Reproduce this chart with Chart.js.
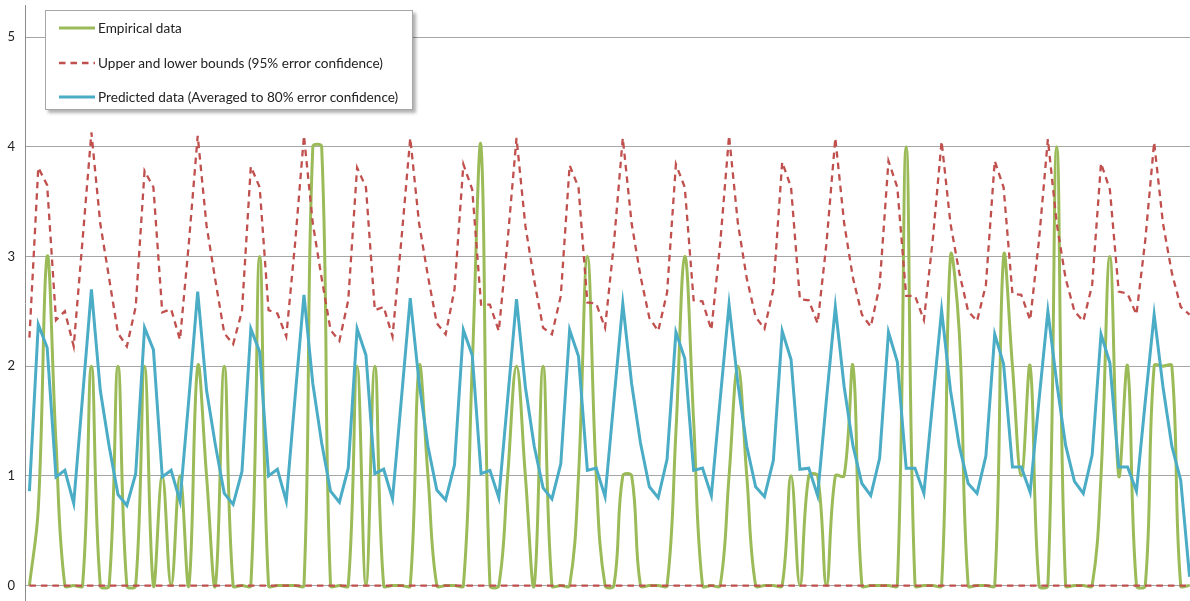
<!DOCTYPE html>
<html>
<head>
<meta charset="utf-8">
<title>Empirical vs predicted</title>
<script src="https://cdn.jsdelivr.net/npm/chart.js@4.4.1/dist/chart.umd.min.js"></script>
<style>
  html, body { margin: 0; padding: 0; overflow: hidden; background: #fff; }
  #wrap { position: relative; width: 1194px; height: 601px; }
  #legend {
    position: absolute; left: 45px; top: 10px; width: 368px; height: 100px;
    box-sizing: border-box; background: #fff; border: 1px solid #a6a6a6;
    box-shadow: 3px 3px 3px rgba(0, 0, 0, 0.3);
    font-family: Lato, "Liberation Sans", sans-serif; font-size: 13.6px; color: #222;
  }
  .item { position: absolute; left: 13px; height: 18px; line-height: 18px; white-space: nowrap; }
  .item svg { position: absolute; left: 0; top: 7px; }
  .item span { position: absolute; left: 39px; top: 0; }
</style>
</head>
<body>
<div id="wrap">
  <canvas id="chart"></canvas>
  <div id="legend"></div>
</div>
<script>
// data, one value per time step
var steps = [];
for (var k = 1; k <= 132; k++) steps.push(String(k));

var empirical = [
  0, 0.7, 3, 1.3, 0, 0, 0, 2, 0, 0, 2, 0,
  0, 2, 0, 1, 0, 1, 0, 2, 1, 0, 2, 0,
  0, 0, 3, 0, 0, 0, 0, 0, 4, 4, 0, 0,
  0, 2, 0, 2, 0, 0, 0, 0, 2, 1, 0, 0,
  0, 0, 2, 4, 0, 0, 1, 2, 1, 0, 2, 0,
  0, 0, 1, 3, 1, 0, 0, 1, 1, 0, 0, 0,
  0, 1.4, 3, 1.5, 0, 0, 0, 1, 2, 1, 0, 0,
  0, 0, 1, 0, 1, 1, 0, 1, 1, 2, 0, 0,
  0, 0, 0, 4, 0, 0, 0, 0, 3, 2.3, 0, 0,
  0, 0, 3, 2, 1, 2, 0, 0, 4, 0, 0, 0,
  0, 1, 3, 1, 2, 0, 0, 2, 2, 2, 0, 0
];

var upper = [
  2.26, 3.81, 3.65, 2.42, 2.50, 2.18, 3.15, 4.13, 3.30, 2.80, 2.30, 2.18,
  2.54, 3.78, 3.63, 2.49, 2.52, 2.24, 3.12, 4.10, 3.28, 2.78, 2.30, 2.20,
  2.50, 3.82, 3.63, 2.51, 2.48, 2.27, 3.12, 4.10, 3.30, 2.80, 2.33, 2.23,
  2.60, 3.81, 3.63, 2.51, 2.54, 2.27, 3.15, 4.08, 3.30, 2.82, 2.39, 2.29,
  2.70, 3.84, 3.61, 2.56, 2.56, 2.32, 3.15, 4.08, 3.28, 2.78, 2.35, 2.29,
  2.64, 3.83, 3.63, 2.58, 2.57, 2.35, 3.12, 4.08, 3.30, 2.82, 2.44, 2.32,
  2.67, 3.84, 3.63, 2.60, 2.59, 2.33, 3.12, 4.10, 3.30, 2.80, 2.45, 2.34,
  2.70, 3.86, 3.63, 2.61, 2.60, 2.39, 3.12, 4.08, 3.30, 2.80, 2.47, 2.36,
  2.73, 3.87, 3.63, 2.64, 2.64, 2.42, 3.15, 4.05, 3.30, 2.85, 2.50, 2.41,
  2.74, 3.87, 3.63, 2.66, 2.65, 2.42, 3.15, 4.07, 3.30, 2.80, 2.50, 2.41,
  2.74, 3.85, 3.61, 2.68, 2.66, 2.47, 3.15, 4.04, 3.30, 2.85, 2.54, 2.47
];

var lower = [
  0, 0, 0, 0, 0, 0, 0, 0, 0, 0, 0, 0,
  0, 0, 0, 0, 0, 0, 0, 0, 0, 0, 0, 0,
  0, 0, 0, 0, 0, 0, 0, 0, 0, 0, 0, 0,
  0, 0, 0, 0, 0, 0, 0, 0, 0, 0, 0, 0,
  0, 0, 0, 0, 0, 0, 0, 0, 0, 0, 0, 0,
  0, 0, 0, 0, 0, 0, 0, 0, 0, 0, 0, 0,
  0, 0, 0, 0, 0, 0, 0, 0, 0, 0, 0, 0,
  0, 0, 0, 0, 0, 0, 0, 0, 0, 0, 0, 0,
  0, 0, 0, 0, 0, 0, 0, 0, 0, 0, 0, 0,
  0, 0, 0, 0, 0, 0, 0, 0, 0, 0, 0, 0,
  0, 0, 0, 0, 0, 0, 0, 0, 0, 0, 0, 0
];

var predicted = [
  0.86, 2.38, 2.17, 0.99, 1.05, 0.75, 1.72, 2.70, 1.78, 1.27, 0.83, 0.73,
  1.02, 2.35, 2.15, 0.99, 1.05, 0.77, 1.70, 2.68, 1.78, 1.28, 0.84, 0.74,
  1.04, 2.34, 2.13, 1.00, 1.06, 0.77, 1.72, 2.65, 1.84, 1.30, 0.86, 0.76,
  1.07, 2.34, 2.10, 1.02, 1.06, 0.79, 1.70, 2.62, 1.85, 1.27, 0.87, 0.78,
  1.10, 2.33, 2.10, 1.02, 1.05, 0.80, 1.70, 2.61, 1.81, 1.27, 0.89, 0.79,
  1.11, 2.33, 2.09, 1.05, 1.07, 0.81, 1.69, 2.57, 1.84, 1.30, 0.90, 0.80,
  1.15, 2.31, 2.07, 1.05, 1.07, 0.82, 1.70, 2.56, 1.84, 1.27, 0.90, 0.81,
  1.14, 2.32, 2.06, 1.06, 1.07, 0.82, 1.70, 2.54, 1.81, 1.27, 0.93, 0.82,
  1.16, 2.31, 2.04, 1.07, 1.07, 0.84, 1.68, 2.51, 1.78, 1.27, 0.93, 0.84,
  1.18, 2.29, 2.02, 1.08, 1.08, 0.85, 1.69, 2.50, 1.85, 1.28, 0.95, 0.84,
  1.19, 2.29, 2.03, 1.08, 1.08, 0.86, 1.68, 2.47, 1.81, 1.27, 0.96, 0.08
];

var yTicks = [0, 1, 2, 3, 4, 5];

var green = "#9bbb59";
var red = "#c0504d";
var blue = "#4bacc6";
var dash = [6.5, 5];

var chart = new Chart("chart", {
  type: "line",
  data: {
    labels: steps,
    datasets: [
      {label: "Predicted data (Averaged to 80% error confidence)", data: predicted,
       borderColor: blue, borderWidth: 3, tension: 0, order: 1},
      {label: "Upper and lower bounds (95% error confidence)", data: upper,
       borderColor: red, borderWidth: 2.3, borderDash: dash, tension: 0, order: 2},
      {label: "", data: lower,
       borderColor: red, borderWidth: 2.3, borderDash: dash, tension: 0, order: 2},
      {label: "Empirical data", data: empirical,
       borderColor: green, borderWidth: 3, tension: 0.4, order: 3}
    ]
  },
  options: {
    responsive: true,
    maintainAspectRatio: false,
    animation: false,
    layout: {padding: {top: 5, right: 0, bottom: 0, left: 0}},
    elements: {point: {radius: 0, hoverRadius: 0}},
    plugins: {legend: {display: false}, tooltip: {enabled: false}},
    scales: {
      x: {type: "category", offset: true, display: false},
      y: {
        min: -0.141,
        max: 5.292,
        afterBuildTicks: function (scale) {
          scale.ticks = yTicks.map(function (v) { return {value: v}; });
        },
        afterFit: function (scale) {
          scale.width = 25;
          scale.paddingTop = 0;
          scale.paddingBottom = 0;
        },
        grid: {color: "#a6a6a6", lineWidth: 1, drawTicks: false},
        border: {color: "#8c8c8c", width: 1},
        ticks: {
          padding: 10,
          color: "#222",
          font: {family: "Lato, 'Liberation Sans', sans-serif", size: 13}
        }
      }
    }
  }
});

// legend box, drawn from the chart's own datasets
var legendOrder = [3, 1, 0];
var legendBox = document.getElementById("legend");
var rowTops = [8, 43, 77];
legendOrder.forEach(function (idx, n) {
  var ds = chart.data.datasets[idx];
  var row = document.createElement("div");
  row.className = "item";
  row.style.top = rowTops[n] + "px";
  var dashAttr = ds.borderDash ? ' stroke-dasharray="' + ds.borderDash.join(" ") + '"' : "";
  row.innerHTML =
    '<svg width="36" height="4"><line x1="0" y1="2" x2="36" y2="2" stroke="' + ds.borderColor +
    '" stroke-width="' + ds.borderWidth + '"' + dashAttr + '/></svg>' +
    "<span>" + ds.label + "</span>";
  legendBox.appendChild(row);
});
</script>
</body>
</html>
